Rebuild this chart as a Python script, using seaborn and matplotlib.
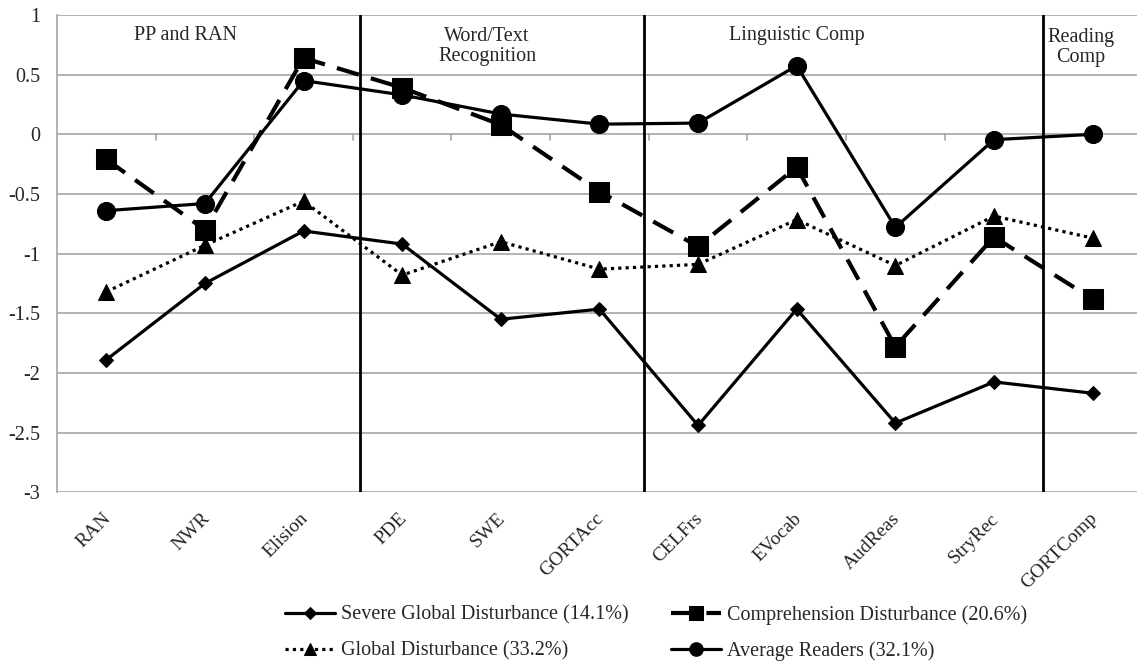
import matplotlib
matplotlib.use("Agg")
import matplotlib.pyplot as plt
import matplotlib.transforms as mtransforms
import seaborn as sns
import pandas as pd
import numpy as np
from matplotlib.ticker import FuncFormatter

categories = ["RAN", "NWR", "Elision", "PDE", "SWE", "GORTAcc", "CELFrs",
              "EVocab", "AudReas", "StryRec", "GORTComp"]
severe = [-1.89, -1.25, -0.81, -0.92, -1.55, -1.465, -2.44, -1.465, -2.42, -2.075, -2.17]
comprehension = [-0.21, -0.80, 0.64, 0.39, 0.08, -0.48, -0.94, -0.275, -1.78, -0.86, -1.38]
global_dist = [-1.32, -0.93, -0.56, -1.18, -0.90, -1.13, -1.09, -0.715, -1.10, -0.685, -0.87]
average = [-0.64, -0.58, 0.45, 0.33, 0.17, 0.085, 0.094, 0.575, -0.78, -0.045, 0.0]
series_labels = ["Severe Global Disturbance (14.1%)", "Comprehension Disturbance (20.6%)",
                 "Global Disturbance (33.2%)", "Average Readers (32.1%)"]
section_labels = ["PP and RAN", "Word/Text\nRecognition", "Linguistic Comp", "Reading\nComp"]
section_dividers = [2.57, 5.45, 9.5]
yticks = [1, 0.5, 0, -0.5, -1, -1.5, -2, -2.5, -3]

sns.set_theme(style="white")
plt.rcParams['font.family'] = ['Liberation Serif', 'DejaVu Serif']
plt.rcParams['axes.unicode_minus'] = False

fig = plt.figure(figsize=(11.37, 6.63), dpi=100)
ax = fig.add_axes([0.0501, 0.2575, 0.9499, 0.7199])

x = np.arange(len(categories))
df = pd.DataFrame({"x": x, "severe": severe, "comp": comprehension,
                   "glob": global_dist, "avg": average})

# gridlines
for yv in yticks:
    ax.axhline(yv, color="#a6a6a6", lw=1.2, zorder=0)

sns.lineplot(data=df, x="x", y="severe", ax=ax, color="black", lw=2.3,
             marker="D", markersize=7.5, markeredgecolor="black", zorder=3,
             label=series_labels[0])
sns.lineplot(data=df, x="x", y="comp", ax=ax, color="black", lw=3,
             marker="s", markersize=14, markeredgecolor="black", zorder=3,
             label=series_labels[1])
ax.lines[-1].set_dashes([5.5, 3])
sns.lineplot(data=df, x="x", y="glob", ax=ax, color="black", lw=2.3,
             marker="^", markersize=12, markeredgecolor="black", zorder=3,
             label=series_labels[2])
ax.lines[-1].set_dashes([1, 1.3])
sns.lineplot(data=df, x="x", y="avg", ax=ax, color="black", lw=2.3,
             marker="o", markersize=13, markeredgecolor="black", zorder=3,
             label=series_labels[3])

for xv in section_dividers:
    ax.axvline(xv, color="black", lw=2, zorder=2)

# small ticks on the category axis at y=0
for b in np.arange(0.5, len(categories) - 0.5, 1.0):
    ax.plot([b, b], [0, -0.045], color="#a6a6a6", lw=1.2, zorder=1)

fs = 14.5
ax.text(0.80, 0.83, section_labels[0], ha="center", va="center", fontsize=fs)
ax.text(3.86, 0.735, section_labels[1], ha="center", va="center", fontsize=fs, linespacing=1.1)
ax.text(7.0, 0.83, section_labels[2], ha="center", va="center", fontsize=fs)
ax.text(9.88, 0.725, section_labels[3], ha="center", va="center", fontsize=fs, linespacing=1.1)

ax.set_xlim(-0.5, 10.45)
ax.set_ylim(-3, 1)
ax.set_yticks(yticks)
ax.yaxis.set_major_formatter(FuncFormatter(lambda v, p: "%g" % v))
ax.set_xticks(x)
ax.set_xticklabels(categories, rotation=45, ha="right", va="top", rotation_mode="anchor")
ax.tick_params(axis="x", length=0, pad=12, labelsize=14)
ax.tick_params(axis="y", length=0, pad=12, labelsize=14.5)
offset = mtransforms.ScaledTranslation(-4 / 100, -1 / 100, fig.dpi_scale_trans)
for lab in ax.get_xticklabels():
    lab.set_transform(lab.get_transform() + offset)
ax.set_xlabel("")
ax.set_ylabel("")
for s in ["top", "right", "bottom"]:
    ax.spines[s].set_visible(False)
ax.spines["left"].set_color("#a6a6a6")
ax.spines["left"].set_linewidth(1.2)

handles, labels = ax.get_legend_handles_labels()
ax.get_legend().remove()
order = [0, 2, 1, 3]
fig.legend([handles[i] for i in order], [labels[i] for i in order],
           loc="center left", bbox_to_anchor=(0.238, 0.045), ncol=2, frameon=False,
           fontsize=14.5, handlelength=2.5, handletextpad=0.3, columnspacing=2.1,
           labelspacing=0.85, markerscale=0.75, borderpad=0.2)

fig.savefig("out.png", dpi=100, facecolor="white")
